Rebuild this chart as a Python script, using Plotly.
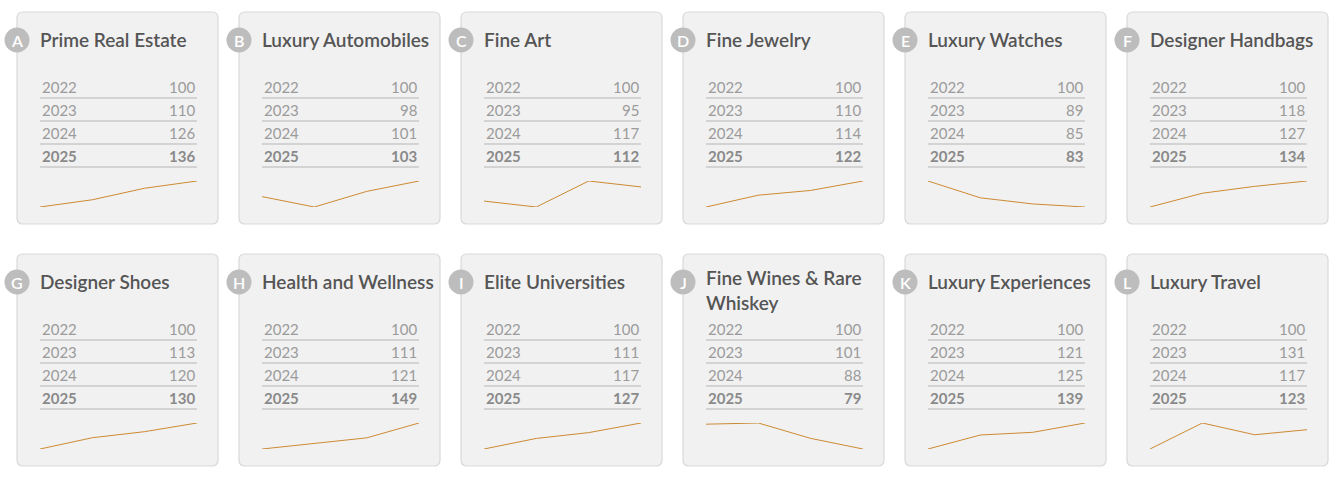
import textwrap

import plotly.graph_objects as go

# data
categories = [
    "Prime Real Estate", "Luxury Automobiles", "Fine Art", "Fine Jewelry",
    "Luxury Watches", "Designer Handbags", "Designer Shoes", "Health and Wellness",
    "Elite Universities", "Fine Wines & Rare Whiskey", "Luxury Experiences", "Luxury Travel",
]
letters = list("ABCDEFGHIJKL")
years = ["2022", "2023", "2024", "2025"]
v2022 = [100, 100, 100, 100, 100, 100, 100, 100, 100, 100, 100, 100]
v2023 = [110, 98, 95, 110, 89, 118, 113, 111, 111, 101, 121, 131]
v2024 = [126, 101, 117, 114, 85, 127, 120, 121, 117, 88, 125, 117]
v2025 = [136, 103, 112, 122, 83, 134, 130, 149, 127, 79, 139, 123]

W, H = 1340, 480
FONT = "Lato"
CARD_W, CARD_H = 201, 212
PITCH_X, PITCH_Y = 222, 242
X0, Y0 = 17, 12
LINE_COLOR = "#cc8a33"


def rounded_rect(x0, y0, x1, y1, r=6):
    return (
        f"M{x0 + r},{y0} L{x1 - r},{y0} Q{x1},{y0} {x1},{y0 + r} "
        f"L{x1},{y1 - r} Q{x1},{y1} {x1 - r},{y1} L{x0 + r},{y1} "
        f"Q{x0},{y1} {x0},{y1 - r} L{x0},{y0 + r} Q{x0},{y0} {x0 + r},{y0} Z"
    )


fig = go.Figure()
shapes, annotations = [], []
layout_axes = {}

for i, name in enumerate(categories):
    row, col = divmod(i, 6)
    cx = X0 + col * PITCH_X
    cy = Y0 + row * PITCH_Y
    vals = [v2022[i], v2023[i], v2024[i], v2025[i]]

    # card
    shapes.append(dict(type="path", path=rounded_rect(cx, cy, cx + CARD_W, cy + CARD_H),
                       fillcolor="#f1f1f1", line=dict(color="#d9d9d9", width=1.2),
                       xref="x", yref="y", layer="below"))
    # badge
    shapes.append(dict(type="circle", x0=cx - 12.5, x1=cx + 12.5, y0=cy + 15.5, y1=cy + 40.5,
                       fillcolor="#bdbdbd", line=dict(width=0), xref="x", yref="y"))
    annotations.append(dict(x=cx, y=cy + 28.5, text=letters[i], showarrow=False,
                            xref="x", yref="y",
                            font=dict(family=FONT, size=16, color="white", weight=600)))

    # title
    lines = textwrap.wrap(name, 20)
    annotations.append(dict(x=cx + 21, y=cy + 14 - 4 * (len(lines) - 1), xanchor="left", yanchor="top",
                            text="<br>".join(lines), showarrow=False, align="left",
                            xref="x", yref="y",
                            font=dict(family=FONT, size=19, color="#555555", weight=600)))

    # table
    left, right = cx + 23, cx + 180
    for j, (yr, v) in enumerate(zip(years, vals)):
        ty = cy + 75 + j * 23
        last = j == len(years) - 1
        color = "#8a8a8a" if last else "#9b9b9b"
        y_txt = f"<b>{yr}</b>" if last else yr
        v_txt = f"<b>{v}</b>" if last else str(v)
        annotations.append(dict(x=left, y=ty, text=y_txt, xanchor="left", showarrow=False,
                                xref="x", yref="y", font=dict(family=FONT, size=15, color=color)))
        annotations.append(dict(x=right, y=ty, text=v_txt, xanchor="right", showarrow=False,
                                xref="x", yref="y", font=dict(family=FONT, size=15, color=color)))
        shapes.append(dict(type="line", x0=left, x1=right, y0=ty + 11, y1=ty + 11,
                           line=dict(color="#c9c9c9", width=1.3), xref="x", yref="y"))

    # sparkline
    k = i + 2
    fig.add_trace(go.Scatter(x=years, y=vals, mode="lines", line=dict(color=LINE_COLOR, width=1),
                             xaxis=f"x{k}", yaxis=f"y{k}", hoverinfo="x+y", showlegend=False))
    top, bottom = cy + 169, cy + 195
    layout_axes[f"xaxis{k}"] = dict(domain=[left / W, right / W], visible=False, fixedrange=True,
                                    anchor=f"y{k}", range=[0, 3])
    layout_axes[f"yaxis{k}"] = dict(domain=[1 - bottom / H, 1 - top / H], visible=False,
                                    fixedrange=True, anchor=f"x{k}", range=[min(vals), max(vals)])

# pixel-space axis for cards and text
fig.add_trace(go.Scatter(x=[0], y=[0], mode="markers", marker=dict(opacity=0),
                         hoverinfo="skip", showlegend=False))

fig.update_layout(
    width=W, height=H,
    margin=dict(l=0, r=0, t=0, b=0),
    paper_bgcolor="white", plot_bgcolor="rgba(0,0,0,0)",
    xaxis=dict(range=[0, W], domain=[0, 1], visible=False, fixedrange=True),
    yaxis=dict(range=[H, 0], domain=[0, 1], visible=False, fixedrange=True),
    shapes=shapes, annotations=annotations,
    **layout_axes,
)

# drop the default page margin so the figure sits at 0,0
fig.write_html("out.html", config={"displayModeBar": False},
               post_script="document.body.style.margin = '0';")
